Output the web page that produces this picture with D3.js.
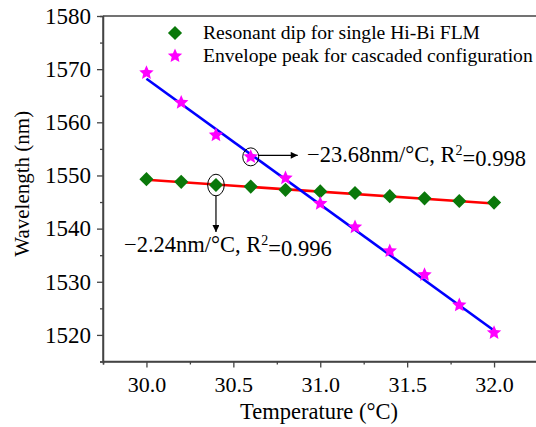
<!DOCTYPE html>
<html><head><meta charset="utf-8">
<script src="https://cdn.jsdelivr.net/npm/d3@7"></script>
<style>body{margin:0;background:#fff;}svg{display:block;}text{font-family:"Liberation Serif","Times New Roman",serif;fill:#000;}</style>
</head><body><div id="chart"></div>
<script>
const temperatures = [30.0, 30.2, 30.4, 30.6, 30.8, 31.0, 31.2, 31.4, 31.6, 31.8, 32.0];
const dipValues = [1549.3, 1548.8, 1548.2, 1547.9, 1547.3, 1547.0, 1546.7, 1546.1, 1545.7, 1545.2, 1544.9];
const peakValues = [1569.3, 1563.7, 1557.6, 1553.5, 1549.5, 1544.7, 1540.3, 1535.8, 1531.3, 1525.6, 1520.4];
const seriesNames = ["Resonant dip for single Hi-Bi FLM", "Envelope peak for cascaded configuration"];
const fitSlopes = [-2.24, -23.68];
const fitAt30 = [1549.2, 1568.2];
const yTicks = [1520, 1530, 1540, 1550, 1560, 1570, 1580];
const yMinor = [1515, 1525, 1535, 1545, 1555, 1565, 1575];
const xTicks = [30.0, 30.5, 31.0, 31.5, 32.0];
const xMinor = [29.75, 30.25, 30.75, 31.25, 31.75];

const W = 536, H = 427;
const m = {left:103, top:16, right:-1.5, bottom:65.5};
const svg = d3.select("#chart").append("svg").attr("width", W).attr("height", H);
const x = d3.scaleLinear().domain([29.75, 32.25]).range([m.left, W - m.right]);
const y = d3.scaleLinear().domain([1515, 1580]).range([H - m.bottom, m.top]);
const axisColor = "#444";
const serif = '"Liberation Serif","Times New Roman",serif';

// frame top
svg.append("line").attr("x1", m.left).attr("x2", W).attr("y1", y(1580)).attr("y2", y(1580))
  .attr("stroke", axisColor).attr("stroke-width", 1.5);

// y axis
const gy = svg.append("g").attr("transform", `translate(${m.left},0)`)
  .call(d3.axisLeft(y).tickValues(yTicks).tickSize(6).tickPadding(6).tickFormat(d3.format("d")));
gy.append("g").call(d3.axisLeft(y).tickValues(yMinor).tickSize(3).tickFormat(""));
// x axis
const gx = svg.append("g").attr("transform", `translate(0,${y(1515)})`)
  .call(d3.axisBottom(x).tickValues(xTicks).tickSize(6).tickPadding(9).tickFormat(d3.format(".1f")));
gx.append("g").call(d3.axisBottom(x).tickValues(xMinor).tickSize(3).tickFormat(""));
[gx, gy].forEach((g, gi) => {
  g.attr("font-family", serif);
  g.selectAll("path.domain").attr("stroke", axisColor).attr("stroke-width", 1.5);
  g.selectAll("line").attr("stroke", axisColor).attr("stroke-width", 1.3);
  g.selectAll("text").style("font-size", gi ? "23px" : "22px").style("font-family", serif).attr("fill", "#000");
});
gx.select("path.domain").attr("d", `M${m.left},0H${W}`);
gy.select("path.domain").attr("d", `M0,${y(1580)}V${y(1515)}`);

// axis titles
svg.append("text").attr("x", (m.left + 494 + 43) / 2 - 1).attr("y", 419).attr("text-anchor", "middle")
  .style("font-size", "22.5px").text("Temperature (°C)");
svg.append("text").attr("transform", `translate(29,${(y(1580)+y(1515))/2 - 5}) rotate(-90)`).attr("text-anchor", "middle")
  .style("font-size", "21px").text("Wavelength (nm)");

// fit lines
const fitColors = ["#ff0000", "#0000ff"];
fitColors.forEach((c, i) => {
  const x0 = temperatures[0], x1 = temperatures[temperatures.length - 1];
  svg.append("line").attr("x1", x(x0)).attr("y1", y(fitAt30[i]))
    .attr("x2", x(x1)).attr("y2", y(fitAt30[i] + fitSlopes[i] * (x1 - x0)))
    .attr("stroke", c).attr("stroke-width", 2.6);
});

// chunky 5-point star symbol
const fatStar = {
  draw(ctx, size) {
    const R = Math.sqrt(size / 1.4), r = R * 0.46;
    for (let k = 0; k < 10; k++) {
      const a = -Math.PI / 2 + k * Math.PI / 5, rr = k % 2 ? r : R;
      const px = rr * Math.cos(a), py = rr * Math.sin(a);
      k ? ctx.lineTo(px, py) : ctx.moveTo(px, py);
    }
    ctx.closePath();
  }
};
const diamond = d3.symbol().type(d3.symbolSquare).size(100);
const star = d3.symbol().type(fatStar).size(80);
const green = "#0a780a", magenta = "#ff00ff";

svg.append("g").selectAll("path").data(temperatures).join("path")
  .attr("d", diamond).attr("fill", green)
  .attr("transform", (d, i) => `translate(${x(d)},${y(dipValues[i])}) rotate(45)`);
svg.append("g").selectAll("path").data(temperatures).join("path")
  .attr("d", star).attr("fill", magenta)
  .attr("transform", (d, i) => `translate(${x(d)},${y(peakValues[i])})`);

// annotations
svg.append("defs").append("marker").attr("id", "ah").attr("viewBox", "0 0 10 10")
  .attr("refX", 10).attr("refY", 5).attr("markerWidth", 10).attr("markerHeight", 7)
  .attr("markerUnits", "userSpaceOnUse").attr("orient", "auto")
  .append("path").attr("d", "M0,0L10,5L0,10z").attr("fill", "#000");

const c1x = x(temperatures[3]), c1y = y(peakValues[3]);
svg.append("ellipse").attr("cx", c1x).attr("cy", c1y).attr("rx", 8).attr("ry", 9)
  .attr("fill", "none").attr("stroke", "#000").attr("stroke-width", 1);
svg.append("line").attr("x1", c1x + 8).attr("y1", c1y - 1.5).attr("x2", c1x + 47).attr("y2", c1y - 1.5)
  .attr("stroke", "#000").attr("stroke-width", 1.2).attr("marker-end", "url(#ah)");

const c2x = x(temperatures[2]), c2y = y(dipValues[2]);
svg.append("ellipse").attr("cx", c2x).attr("cy", c2y).attr("rx", 8.3).attr("ry", 10.8)
  .attr("fill", "none").attr("stroke", "#000").attr("stroke-width", 1);
svg.append("line").attr("x1", c2x).attr("y1", c2y + 10.8).attr("x2", c2x).attr("y2", c2y + 47)
  .attr("stroke", "#000").attr("stroke-width", 1.2).attr("marker-end", "url(#ah)");

function annot(tx, ty, slope, r2) {
  const t = svg.append("text").attr("x", tx).attr("y", ty).style("font-size", "22.5px");
  t.append("tspan").text("\u2212" + Math.abs(slope).toFixed(2) + "nm/°C, R");
  t.append("tspan").attr("dy", "-0.5em").style("font-size", "14px").text("2");
  t.append("tspan").attr("dy", "0.5em").text("=" + r2);
}
annot(307, 162, fitSlopes[1], "0.998");
annot(124, 252, fitSlopes[0], "0.996");

// legend
const lg = svg.append("g");
lg.append("path").attr("d", diamond).attr("fill", green).attr("transform", "translate(175,33) rotate(45)");
lg.append("path").attr("d", star).attr("fill", magenta).attr("transform", "translate(175,56)");
lg.append("text").attr("x", 203).attr("y", 39).style("font-size", "19.6px").text(seriesNames[0]);
lg.append("text").attr("x", 203).attr("y", 62).style("font-size", "19.6px").text(seriesNames[1]);
</script></body></html>
